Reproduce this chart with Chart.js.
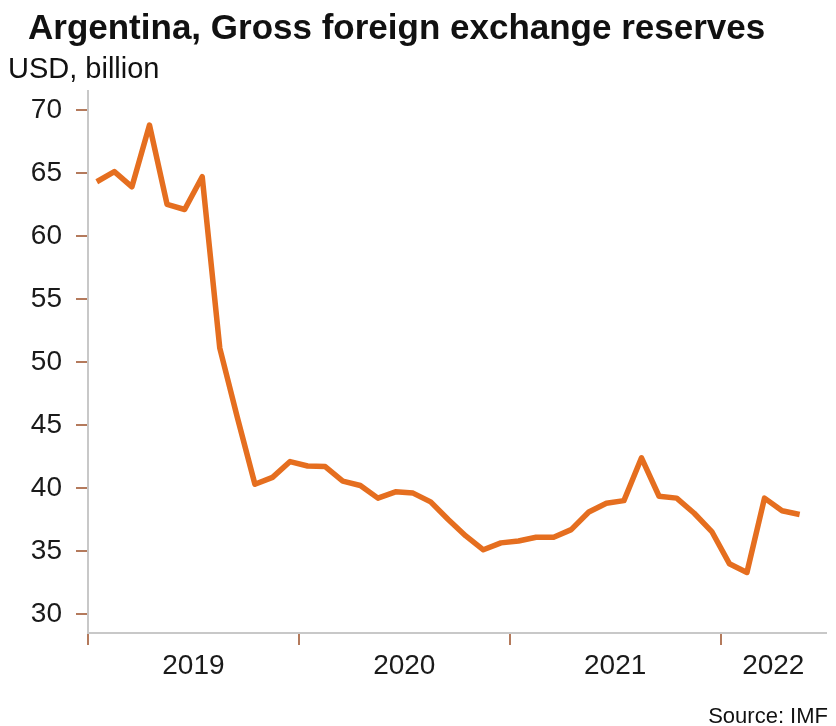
<!DOCTYPE html>
<html>
<head>
<meta charset="utf-8">
<script src="https://cdn.jsdelivr.net/npm/chart.js@4"></script>
<style>
  html, body { margin: 0; padding: 0; background: #fff; }
  #wrap { width: 836px; height: 726px; }
</style>
</head>
<body>
<div id="wrap"><canvas id="reserves-target"></canvas></div>
<script>
const months = [
    '2019-01', '2019-02', '2019-03', '2019-04', '2019-05', '2019-06',
    '2019-07', '2019-08', '2019-09', '2019-10', '2019-11', '2019-12',
    '2020-01', '2020-02', '2020-03', '2020-04', '2020-05', '2020-06',
    '2020-07', '2020-08', '2020-09', '2020-10', '2020-11', '2020-12',
    '2021-01', '2021-02', '2021-03', '2021-04', '2021-05', '2021-06',
    '2021-07', '2021-08', '2021-09', '2021-10', '2021-11', '2021-12',
    '2022-01', '2022-02', '2022-03', '2022-04', '2022-05',
]
const reserves = [
    64.3, 65.1, 63.9, 68.8, 62.5, 62.1, 64.7, 51.1, 45.6, 40.3, 40.85, 42.1,
    41.75, 41.7, 40.55, 40.2, 39.2, 39.7, 39.6, 38.9, 37.5, 36.2, 35.1, 35.65,
    35.8, 36.1, 36.1, 36.7, 38.1, 38.8, 39.0, 42.4, 39.35, 39.2, 38.0, 36.55,
    34.0, 33.3, 39.2, 38.2, 37.9,
]
const years = ['2019', '2020', '2021', '2022']
const yTicks = [30, 35, 40, 45, 50, 55, 60, 65, 70]

const FONT = '"Liberation Sans", Arial, sans-serif'
const TICK_BROWN = '#b47a5c'

// x axis runs in months from the start of Jan 2019 to the end of Jun 2022
const xMax = 42
const yearMarks = [0, 12, 24, 36]
const yearMids = [6, 18, 30, 39]

const textPlugin = {
    id: 'texts',
    afterDraw(chart) {
        const ctx = chart.ctx
        ctx.save()
        ctx.fillStyle = '#111'
        ctx.textBaseline = 'alphabetic'
        ctx.textAlign = 'left'
        ctx.font = 'bold 35px ' + FONT
        ctx.fillText('Argentina, Gross foreign exchange reserves', 28, 39)
        ctx.font = '29px ' + FONT
        ctx.fillText('USD, billion', 8, 78)
        ctx.textAlign = 'right'
        ctx.font = '22px ' + FONT
        ctx.fillText('Source: IMF', 828, 723)
        ctx.restore()
    }
}

window.onload = () => {
    let target = document.getElementById('reserves-target')
    let content = new Chart(target, {
        type: 'line',
        data: {
            labels: months,
            datasets: [{
                data: reserves.map((v, i) => ({ x: i + 0.5, y: v })),
                borderColor: '#e56e1f',
                borderWidth: 5.5,
                borderJoinStyle: 'round',
                borderCapStyle: 'butt',
                pointRadius: 0,
                tension: 0,
                fill: false,
            }],
        },
        options: {
            responsive: true,
            maintainAspectRatio: false,
            animation: false,
            layout: {
                padding: { left: 0, right: 10, top: 91, bottom: 33 },
            },
            plugins: {
                legend: { display: false },
                tooltip: { enabled: false },
            },
            scales: {
                x: {
                    type: 'linear',
                    min: 0,
                    max: xMax,
                    afterBuildTicks: (axis) => {
                        axis.ticks = yearMarks.concat(yearMids)
                            .sort((a, b) => a - b)
                            .map((v) => ({ value: v }))
                    },
                    afterFit: (axis) => { axis.height = 60 },
                    border: { color: '#c8c8c8', width: 2 },
                    grid: {
                        drawOnChartArea: false,
                        tickLength: 12,
                        lineWidth: 2,
                        tickColor: (c) => yearMarks.includes(c.tick && c.tick.value)
                            ? TICK_BROWN : 'rgba(0,0,0,0)',
                    },
                    ticks: {
                        autoSkip: false,
                        maxRotation: 0,
                        padding: 4,
                        color: '#1a1a1a',
                        font: { family: FONT, size: 28 },
                        callback: (v) => {
                            const k = yearMids.indexOf(v)
                            return k >= 0 ? years[k] : ''
                        },
                    },
                },
                y: {
                    min: 28.5,
                    max: 71.5,
                    afterBuildTicks: (axis) => {
                        axis.ticks = yTicks.map((v) => ({ value: v }))
                    },
                    afterFit: (axis) => { axis.width = 88 },
                    border: { color: '#c8c8c8', width: 2 },
                    grid: {
                        drawOnChartArea: false,
                        tickLength: 12,
                        lineWidth: 2,
                        tickColor: TICK_BROWN,
                    },
                    ticks: {
                        padding: 14,
                        color: '#1a1a1a',
                        font: { family: FONT, size: 28 },
                    },
                },
            },
        },
        plugins: [textPlugin],
    })
}
</script>
</body>
</html>
